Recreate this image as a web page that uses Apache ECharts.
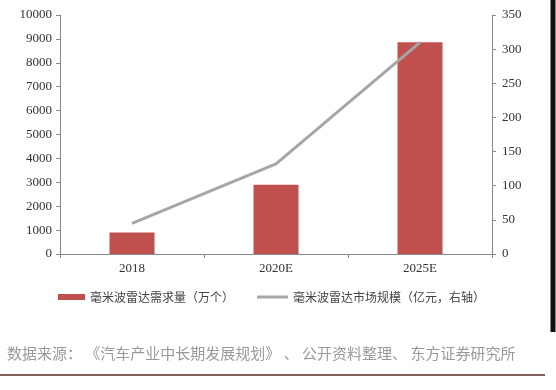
<!DOCTYPE html>
<html>
<head>
<meta charset="utf-8">
<script src="https://cdn.jsdelivr.net/npm/echarts@6/dist/echarts.min.js"></script>
<style>html,body{margin:0;padding:0;background:#fff;}#c{width:556px;height:390px;}</style>
</head>
<body>
<div id="c"></div>
<script>
const categories = ['2018', '2020E', '2025E'];
const demand = [900, 2900, 8860];
const market = [45, 132, 310];
const leftTicks = [0, 10000, 1000];
const rightTicks = [0, 350, 50];
const barName = '毫米波雷达需求量（万个）';
const lineName = '毫米波雷达市场规模（亿元，右轴）';
const sourceText = '数据来源： 《汽车产业中长期发展规划》 、 公开资料整理、 东方证券研究所';

const numFont = 'Liberation Serif';
const cjkFont = 'Noto Sans CJK SC';
const axisColor = '#888888';

const chart = echarts.init(document.getElementById('c'), null, {renderer: 'canvas'});
chart.setOption({
  animation: false,
  backgroundColor: '#ffffff',
  grid: {left: 60, right: 64, top: 15, bottom: 136, containLabel: false},
  legend: [
    {data: [{name: barName, icon: 'rect'}], left: 58, top: 291, padding: 0, itemWidth: 27, itemHeight: 6, itemGap: 5,
     textStyle: {fontFamily: cjkFont, fontSize: 12, color: '#444'}},
    {data: [{name: lineName, icon: 'rect', itemStyle: {color: '#a6a6a6'}}], left: 257, top: 291, padding: 0, itemWidth: 31, itemHeight: 3,
     textStyle: {fontFamily: cjkFont, fontSize: 12, color: '#444'}}
  ],
  xAxis: {
    type: 'category', data: categories, boundaryGap: true,
    axisLine: {lineStyle: {color: axisColor, width: 1}},
    axisTick: {show: true, alignWithLabel: false, length: 4, lineStyle: {color: axisColor}},
    axisLabel: {fontFamily: numFont, fontSize: 13, color: '#333', margin: 8}
  },
  yAxis: [
    {type: 'value', min: leftTicks[0], max: leftTicks[1], interval: leftTicks[2],
     axisLine: {show: true, lineStyle: {color: axisColor}},
     axisTick: {show: true, length: 4, lineStyle: {color: axisColor}},
     splitLine: {show: false},
     axisLabel: {fontFamily: numFont, fontSize: 13, color: '#333', margin: 8, formatter: v => String(v)}},
    {type: 'value', min: rightTicks[0], max: rightTicks[1], interval: rightTicks[2], position: 'right',
     axisLine: {show: true, lineStyle: {color: axisColor}},
     axisTick: {show: true, length: 4, lineStyle: {color: axisColor}},
     splitLine: {show: false},
     axisLabel: {fontFamily: numFont, fontSize: 13, color: '#333', margin: 10, formatter: v => String(v)}}
  ],
  series: [
    {name: barName, type: 'bar', data: demand, yAxisIndex: 0, barWidth: 45,
     itemStyle: {color: '#c0504d'}},
    {name: lineName, type: 'line', data: market, yAxisIndex: 1, symbol: 'none',
     lineStyle: {color: '#a6a6a6', width: 3}, itemStyle: {color: '#a6a6a6'}}
  ],
  graphic: [
    {type: 'text', left: 7, top: 346, style: {text: sourceText, fontFamily: cjkFont, fontSize: 15, fill: '#999999'}},
    {type: 'line', shape: {x1: 0, y1: 375, x2: 545, y2: 375}, style: {stroke: '#5e2b2b', lineWidth: 1.5}},
    {type: 'line', shape: {x1: 553, y1: 0, x2: 553, y2: 332}, style: {stroke: '#111111', lineWidth: 5}}
  ]
});
</script>
</body>
</html>
